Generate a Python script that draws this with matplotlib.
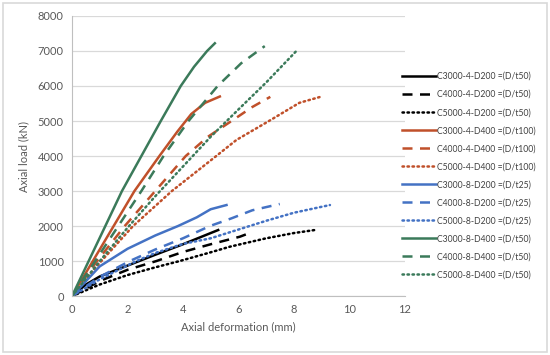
import matplotlib
matplotlib.use("Agg")
import matplotlib.pyplot as plt
from matplotlib.patches import Rectangle

plt.rcParams['font.family'] = ['Lato', 'DejaVu Sans']

# (deformation mm, load kN)
C3000_4_D200_X = [0, 0.5, 1, 2, 3, 4, 5, 5.27]
C3000_4_D200_Y = [0, 330, 560, 870, 1180, 1480, 1800, 1886]
C4000_4_D200_X = [0, 1, 2, 3.04, 4, 5, 6.05, 6.4]
C4000_4_D200_Y = [0, 430, 750, 1000, 1260, 1480, 1695, 1800]
C5000_4_D200_X = [0, 1, 2, 3, 3.88, 5, 5.69, 7, 8, 8.75]
C5000_4_D200_Y = [0, 330, 600, 820, 1000, 1250, 1410, 1650, 1800, 1886]

C3000_4_D400_X = [0, 0.75, 1.5, 2.25, 3.15, 3.8, 4.3, 4.8, 5.33]
C3000_4_D400_Y = [0, 1000, 2000, 3000, 4000, 4700, 5200, 5520, 5700]
C4000_4_D400_X = [0, 0.9, 1.9, 3.0, 4.1, 4.9, 5.75, 6.5, 7.15]
C4000_4_D400_Y = [0, 1000, 2000, 3000, 4000, 4550, 5000, 5400, 5690]
C5000_4_D400_X = [0, 1, 2.2, 3.6, 5.2, 5.93, 7.1, 8.2, 9]
C5000_4_D400_Y = [0, 950, 2000, 3000, 4000, 4460, 5000, 5520, 5700]

C3000_8_D200_X = [0, 1, 2, 3, 3.82, 4.5, 5, 5.57]
C3000_8_D200_Y = [0, 850, 1350, 1730, 2000, 2250, 2480, 2600]
C4000_8_D200_X = [0, 1, 2.08, 3, 4, 4.97, 5.75, 6.5, 7.49]
C4000_8_D200_Y = [0, 550, 1000, 1330, 1650, 2000, 2220, 2450, 2630]
C5000_8_D200_X = [0, 1, 2.32, 3, 4, 5, 6, 7, 8, 9, 9.3]
C5000_8_D200_Y = [0, 480, 1000, 1230, 1490, 1650, 1900, 2150, 2380, 2550, 2600]

C3000_8_D400_X = [0, 0.6, 1.2, 1.8, 2.5, 3.2, 3.92, 4.4, 4.87, 5.15]
C3000_8_D400_Y = [0, 1000, 2000, 3000, 4000, 5000, 6000, 6550, 7000, 7220]
C4000_8_D400_X = [0, 1, 2, 2.5, 3.3, 4.2, 5.25, 6.1, 6.95]
C4000_8_D400_Y = [0, 1200, 2400, 3000, 4000, 5000, 6000, 6650, 7140]
C5000_8_D400_X = [0, 1, 2, 3, 4, 5, 6, 7, 8.15]
C5000_8_D400_Y = [0, 1000, 1950, 2850, 3700, 4550, 5330, 6100, 7050]

LABELS = ["C3000-4-D200 =(D/t50)", "C4000-4-D200 =(D/t50)", "C5000-4-D200 =(D/t50)",
          "C3000-4-D400 =(D/t100)", "C4000-4-D400 =(D/t100)", "C5000-4-D400 =(D/t100)",
          "C3000-8-D200 =(D/t25)", "C4000-8-D200 =(D/t25)", "C5000-8-D200 =(D/t25)",
          "C3000-8-D400 =(D/t50)", "C4000-8-D400 =(D/t50)", "C5000-8-D400 =(D/t50)"]

SERIES = [(C3000_4_D200_X, C3000_4_D200_Y), (C4000_4_D200_X, C4000_4_D200_Y),
          (C5000_4_D200_X, C5000_4_D200_Y), (C3000_4_D400_X, C3000_4_D400_Y),
          (C4000_4_D400_X, C4000_4_D400_Y), (C5000_4_D400_X, C5000_4_D400_Y),
          (C3000_8_D200_X, C3000_8_D200_Y), (C4000_8_D200_X, C4000_8_D200_Y),
          (C5000_8_D200_X, C5000_8_D200_Y), (C3000_8_D400_X, C3000_8_D400_Y),
          (C4000_8_D400_X, C4000_8_D400_Y), (C5000_8_D400_X, C5000_8_D400_Y)]

COLORS = ["#000000", "#C0502A", "#4472C4", "#3B7A5A"]
STYLES = [("-", None), ((0, (4, 3)), None), ((0, (0.6, 1.4)), "round")]

fig = plt.figure(figsize=(5.5, 3.55), dpi=100)
fig.patches.append(Rectangle((0.006, 0.008), 0.988, 0.984, transform=fig.transFigure,
                             fill=False, edgecolor="#D9D9D9", linewidth=1.2))
ax = fig.add_axes([0.131, 0.166, 0.605, 0.789])

for i, ((x, y), lab) in enumerate(zip(SERIES, LABELS)):
    ls, cap = STYLES[i % 3]
    line, = ax.plot(x, y, color=COLORS[i // 3], linestyle=ls, linewidth=1.8,
                    label=lab, solid_joinstyle="round")
    if cap:
        line.set_dash_capstyle(cap)

ax.set_xlim(0, 12)
ax.set_ylim(0, 8000)
ax.set_xticks(range(0, 13, 2))
ax.set_yticks(range(0, 8001, 1000))
ax.grid(axis="y", color="#D9D9D9", linewidth=0.9)
ax.set_axisbelow(True)
for s in ["top", "right"]:
    ax.spines[s].set_visible(False)
for s in ["left", "bottom"]:
    ax.spines[s].set_color("#BFBFBF")
ax.tick_params(length=0, labelsize=8, colors="#595959", pad=6)
ax.set_xlabel("Axial deformation (mm)", fontsize=8, color="#595959", labelpad=4)
ax.set_ylabel("Axial load (kN)", fontsize=8, color="#595959", labelpad=6)

leg = fig.legend(loc="center left", bbox_to_anchor=(0.725, 0.505), frameon=False,
                 fontsize=6.2, handlelength=3.9, handletextpad=0.15,
                 labelspacing=1.05, borderaxespad=0)
for t in leg.get_texts():
    t.set_color("#404040")

fig.savefig("out.png", dpi=100)
